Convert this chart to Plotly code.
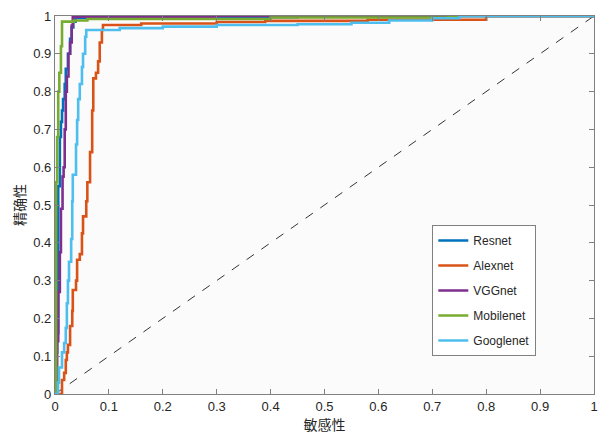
import plotly.graph_objects as go

# ---- data (FPR, TPR corner points; the curve rises to y at x) ----
resnet_x = [0, 0.002, 0.004, 0.006, 0.009, 0.011, 0.013, 0.015, 0.018, 0.02, 0.024, 0.028, 0.031, 0.034, 0.038, 0.1, 0.45, 1]
resnet_y = [0, 0.11, 0.16, 0.55, 0.68, 0.72, 0.75, 0.78, 0.82, 0.86, 0.9, 0.94, 0.97, 0.985, 0.995, 0.997, 1.0, 1.0]

alexnet_x = [0, 0.013, 0.017, 0.02, 0.022, 0.024, 0.028, 0.032, 0.033, 0.039, 0.041, 0.046, 0.05, 0.052,
             0.058, 0.06, 0.065, 0.069, 0.071, 0.076, 0.08, 0.083, 0.087, 0.089, 0.16, 0.3, 0.39, 0.58, 0.8, 1]
alexnet_y = [0, 0.037, 0.056, 0.09, 0.11, 0.13, 0.18, 0.22, 0.275, 0.30, 0.355, 0.37, 0.425, 0.47,
             0.51, 0.56, 0.64, 0.75, 0.835, 0.85, 0.88, 0.93, 0.963, 0.976, 0.98, 0.984, 0.987, 0.99, 1.0, 1.0]

vggnet_x = [0, 0.004, 0.006, 0.009, 0.011, 0.014, 0.016, 0.018, 0.02, 0.022, 0.025, 0.028, 0.031, 0.033, 0.04, 0.3, 1]
vggnet_y = [0, 0.14, 0.27, 0.375, 0.49, 0.575, 0.6, 0.7, 0.8, 0.84, 0.9, 0.93, 0.975, 0.997, 0.998, 1.0, 1.0]

mobilenet_x = [0, 0.002, 0.004, 0.006, 0.008, 0.011, 0.013, 0.035, 0.06, 0.4, 0.73, 1]
mobilenet_y = [0, 0.56, 0.68, 0.80, 0.85, 0.92, 0.985, 0.988, 0.992, 0.996, 1.0, 1.0]

googlenet_x = [0, 0.0056, 0.0074, 0.013, 0.017, 0.02, 0.022, 0.024, 0.026, 0.03, 0.032, 0.033, 0.039, 0.041,
               0.043, 0.046, 0.05, 0.052, 0.056, 0.058, 0.12, 0.2, 0.3, 0.45, 0.55, 0.62, 0.7, 0.75, 1]
googlenet_y = [0, 0.03, 0.07, 0.11, 0.135, 0.175, 0.24, 0.30, 0.35, 0.41, 0.51, 0.58, 0.66, 0.725,
               0.78, 0.82, 0.865, 0.90, 0.945, 0.963, 0.968, 0.972, 0.976, 0.978, 0.982, 0.988, 0.994, 1.0, 1.0]

diag = [0, 1]

names = ["Resnet", "Alexnet", "VGGnet", "Mobilenet", "Googlenet"]
xs = [resnet_x, alexnet_x, vggnet_x, mobilenet_x, googlenet_x]
ys = [resnet_y, alexnet_y, vggnet_y, mobilenet_y, googlenet_y]
colors = ["#0072BD", "#D95319", "#7E2F8E", "#77AC30", "#4DBEEE"]

tick_vals = [0, 0.1, 0.2, 0.3, 0.4, 0.5, 0.6, 0.7, 0.8, 0.9, 1]
tick_text = ["0", "0.1", "0.2", "0.3", "0.4", "0.5", "0.6", "0.7", "0.8", "0.9", "1"]

fig = go.Figure()
fig.add_trace(go.Scatter(x=diag, y=diag, mode="lines", showlegend=False,
                         line=dict(color="#333333", width=1, dash="dash")))
for n, x, y, c in zip(names, xs, ys, colors):
    fig.add_trace(go.Scatter(x=x, y=y, mode="lines", name=n, legendgroup=n,
                             line=dict(color=c, width=2.6, shape="hv")))

axis_common = dict(range=[0, 1], tickvals=tick_vals, ticktext=tick_text, ticks="inside", ticklen=5,
                   tickcolor="#808080", showline=True, linecolor="#808080", linewidth=1.2,
                   mirror="allticks", showgrid=False, zeroline=False, automargin=False,
                   tickfont=dict(family="Liberation Sans, Arial", size=13, color="#262626"))

fig.update_layout(
    width=609, height=434,
    margin=dict(l=55, r=15, t=16, b=40, autoexpand=False),
    paper_bgcolor="white", plot_bgcolor="#fbfbfb",
    xaxis=dict(**axis_common, title=dict(text="敏感性", standoff=2,
               font=dict(family="Noto Sans CJK SC", size=14, color="#262626"))),
    yaxis=dict(**axis_common, title=dict(text="精确性", standoff=4,
               font=dict(family="Noto Sans CJK SC", size=14, color="#262626"))),
    legend=dict(x=0.70, y=0.447, xanchor="left", yanchor="top", bgcolor="white",
                bordercolor="#808080", borderwidth=1, tracegroupgap=6,
                font=dict(family="Liberation Sans, Arial", size=12, color="#262626")),
)

fig.write_html("out.html", config={"displayModeBar": False},
               post_script="document.body.style.margin='0px';")
